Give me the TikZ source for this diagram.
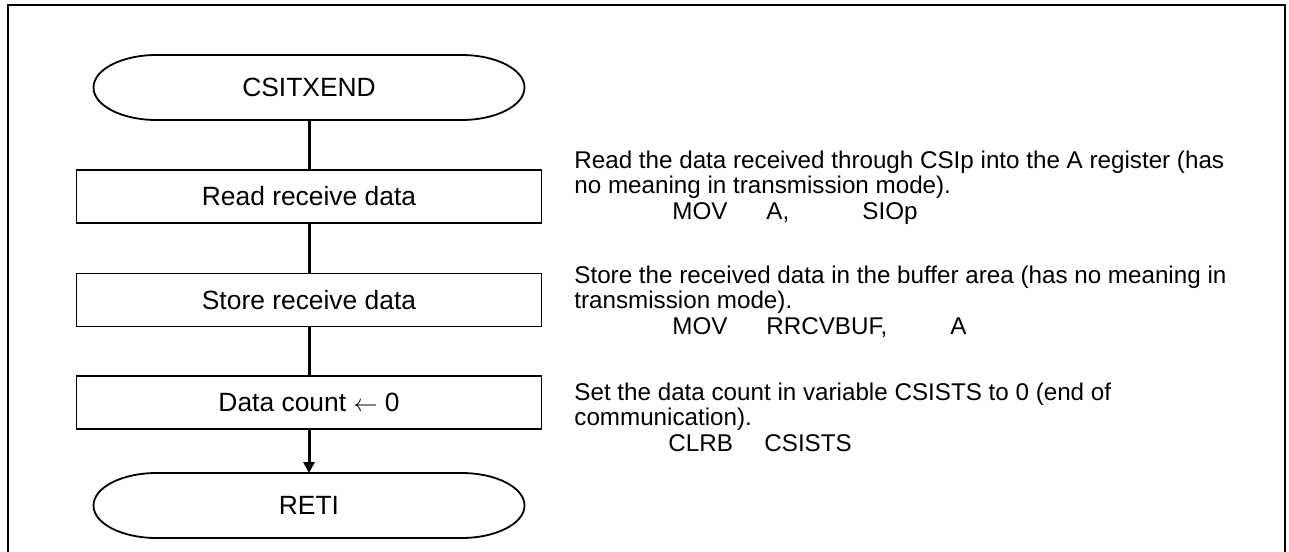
\documentclass[tikz,border=0pt]{standalone}
\usepackage{fontspec}
\setmainfont{Liberation Sans}
\usetikzlibrary{arrows.meta}

\begin{document}
\begin{tikzpicture}[x=0.5pt,y=-0.5pt,
  term/.style={minimum width=215.5pt,minimum height=32.5pt,inner sep=0pt,outer sep=0pt,font=\fontsize{13.2}{15}\selectfont},
  proc/.style={draw,line width=.75pt,minimum width=232.5pt,minimum height=26.5pt,outer sep=0pt,font=\fontsize{13.2}{15}\selectfont},
  note/.style={anchor=base west,align=left,inner sep=0pt,font=\fontsize{12.1}{12.75}\selectfont},
  link/.style={line width=1.5pt},
  arr/.style={link,-{Triangle[length=5.5pt,width=5.5pt]}}
]
  \useasboundingbox (0,0) rectangle (1289,551);
  % open frame
  \draw[line width=1.2pt] (8,560) -- (8,5) -- (1285,5) -- (1285,560);

  \node[term] (start) at (309,87.5) {CSITXEND};
  \node[proc] (rd) at (309,196.5) {Read receive data};
  \node[proc] (st) at (309,300) {Store receive data};
  \node[proc] (cnt) at (309,402.5) {Data count $\leftarrow$ 0};
  \node[term] (reti) at (309,505.5) {RETI};

  \foreach \t in {start,reti}
    \draw[line width=.9pt] ([xshift=31.5pt]\t.north west) -- ([xshift=-31.5pt]\t.north east)
      arc[start angle=90,end angle=-90,x radius=31.5pt,y radius=16.25pt]
      -- ([xshift=31.5pt]\t.south west)
      arc[start angle=270,end angle=90,x radius=31.5pt,y radius=16.25pt] -- cycle;

  \draw[link] (start) -- (rd);
  \draw[link] (rd) -- (st);
  \draw[link] (st) -- (cnt);
  \draw[arr] (cnt) -- (reti);

  % comments beside the boxes (anchored on the last line)
  \node[note] (n1) at (574,219) {Read the data received through CSIp into the A register (has\\no meaning in transmission mode).\\\hspace*{49pt}\makebox[47pt][l]{MOV}\makebox[48pt][l]{A,}SIOp};
  \node[note] (n2) at (574,334) {Store the received data in the buffer area (has no meaning in\\transmission mode).\\\hspace*{49pt}\makebox[47pt][l]{MOV}\makebox[92pt][l]{RRCVBUF,}A};
  \node[note] (n3) at (574,451) {Set the data count in variable CSISTS to 0 (end of\\communication).\\\hspace*{47pt}\makebox[48pt][l]{CLRB}CSISTS};
\end{tikzpicture}
\end{document}
